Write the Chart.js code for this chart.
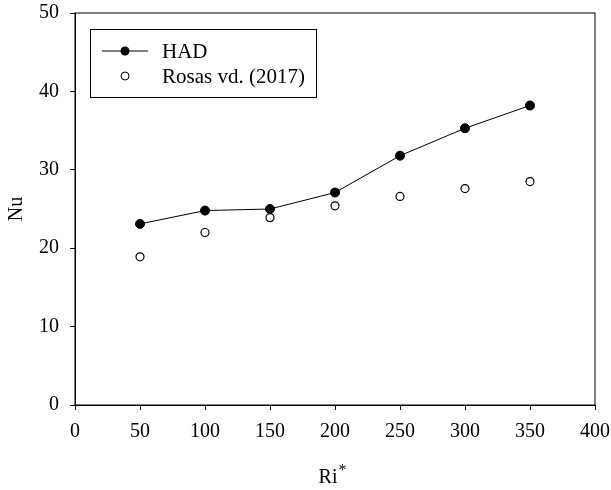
<!DOCTYPE html>
<html lang="en">

<head>
    <meta charset="UTF-8">
    <title>Nu vs Ri*</title>
    <script src="https://cdn.jsdelivr.net/npm/chart.js@4.4.0/dist/chart.umd.min.js"></script>
    <style>
        body {
            margin: 0;
            background: #fff;
        }
    </style>
</head>

<body>
    <canvas id="nuChart" width="611" height="490"></canvas>
    <script>
        // Ri* values
        const riValues = [50, 100, 150, 200, 250, 300, 350];
        // Nu from HAD
        const hadNu = [23.1, 24.8, 25.0, 27.1, 31.8, 35.3, 38.2];
        // Nu from Rosas vd. (2017)
        const rosasNu = [18.9, 22.0, 23.9, 25.4, 26.6, 27.6, 28.5];

        const xTicks = [0, 50, 100, 150, 200, 250, 300, 350, 400];
        const yTicks = [0, 10, 20, 30, 40, 50];

        const serif = "'Liberation Serif', 'Times New Roman', serif";

        const toPoints = (xs, ys) => xs.map((x, i) => ({ x: x, y: ys[i] }));

        // box round the plot, legend inside, and the Ri* title
        const framePlugin = {
            id: 'frame',
            afterDraw(chart) {
                const { ctx, chartArea: a } = chart;
                ctx.save();
                ctx.strokeStyle = '#000';
                ctx.lineWidth = 1;
                ctx.strokeRect(a.left, a.top, a.right - a.left, a.bottom - a.top);

                // legend
                const lx = 90, ly = 29, lw = 226, lh = 68;
                ctx.strokeRect(lx + 0.5, ly + 0.5, lw, lh);
                ctx.font = '21px ' + serif;
                ctx.fillStyle = '#000';
                ctx.textBaseline = 'middle';
                const ds = chart.data.datasets;
                // HAD row
                let ry = ly + 22;
                ctx.beginPath();
                ctx.moveTo(lx + 12, ry);
                ctx.lineTo(lx + 58, ry);
                ctx.stroke();
                ctx.beginPath();
                ctx.arc(lx + 35, ry, 4.5, 0, Math.PI * 2);
                ctx.fill();
                ctx.fillText(ds[0].label, lx + 72, ry + 1);
                // Rosas row
                ry = ly + 47;
                ctx.beginPath();
                ctx.arc(lx + 35, ry, 4, 0, Math.PI * 2);
                ctx.fillStyle = '#fff';
                ctx.fill();
                ctx.stroke();
                ctx.fillStyle = '#000';
                ctx.fillText(ds[1].label, lx + 72, ry + 1);

                // x title with superscript
                ctx.font = '20px ' + serif;
                ctx.textBaseline = 'alphabetic';
                const cx = (a.left + a.right) / 2;
                const w = ctx.measureText('Ri').width;
                ctx.fillText('Ri', cx - w / 2 - 7, 483);
                ctx.font = '16px ' + serif;
                ctx.fillText('*', cx + w / 2 - 6, 475);
                ctx.restore();
            }
        };

        const config = {
            type: 'scatter',
            data: {
                datasets: [
                    {
                        label: 'HAD',
                        data: toPoints(riValues, hadNu),
                        showLine: true,
                        borderColor: '#000',
                        backgroundColor: '#000',
                        borderWidth: 1,
                        pointRadius: 4.5,
                        pointBorderWidth: 1
                    },
                    {
                        label: 'Rosas vd. (2017)',
                        data: toPoints(riValues, rosasNu),
                        showLine: false,
                        borderColor: '#000',
                        backgroundColor: '#fff',
                        pointRadius: 4,
                        pointBorderWidth: 1.2
                    }
                ]
            },
            options: {
                responsive: false,
                animation: false,
                layout: {
                    padding: { left: 0, top: 13, right: 16, bottom: 0 }
                },
                plugins: {
                    legend: { display: false },
                    tooltip: { enabled: false }
                },
                scales: {
                    x: {
                        type: 'linear',
                        min: 0,
                        max: 400,
                        afterFit: s => {
                            s.height = 85;
                            s.paddingLeft = 0;
                            s.paddingRight = 0;
                        },
                        afterBuildTicks: s => { s.ticks = xTicks.map(v => ({ value: v })); },
                        grid: {
                            drawOnChartArea: false,
                            tickLength: 5,
                            color: '#000'
                        },
                        border: { color: '#000', width: 1 },
                        ticks: {
                            color: '#000',
                            padding: 10,
                            maxRotation: 0,
                            font: { family: serif, size: 20 }
                        }
                    },
                    y: {
                        min: 0,
                        max: 50,
                        afterFit: s => {
                            s.width = 75;
                            s.paddingTop = 0;
                            s.paddingBottom = 0;
                        },
                        afterBuildTicks: s => { s.ticks = yTicks.map(v => ({ value: v })); },
                        grid: {
                            drawOnChartArea: false,
                            tickLength: 5,
                            color: '#000'
                        },
                        border: { color: '#000', width: 1 },
                        ticks: {
                            color: '#000',
                            padding: 11,
                            font: { family: serif, size: 20 }
                        },
                        title: {
                            display: true,
                            text: 'Nu',
                            color: '#000',
                            padding: { top: 5, bottom: 0 },
                            font: { family: serif, size: 20 }
                        }
                    }
                }
            },
            plugins: [framePlugin]
        };

        const nuChart = new Chart(document.getElementById('nuChart').getContext('2d'), config);
    </script>
</body>

</html>
